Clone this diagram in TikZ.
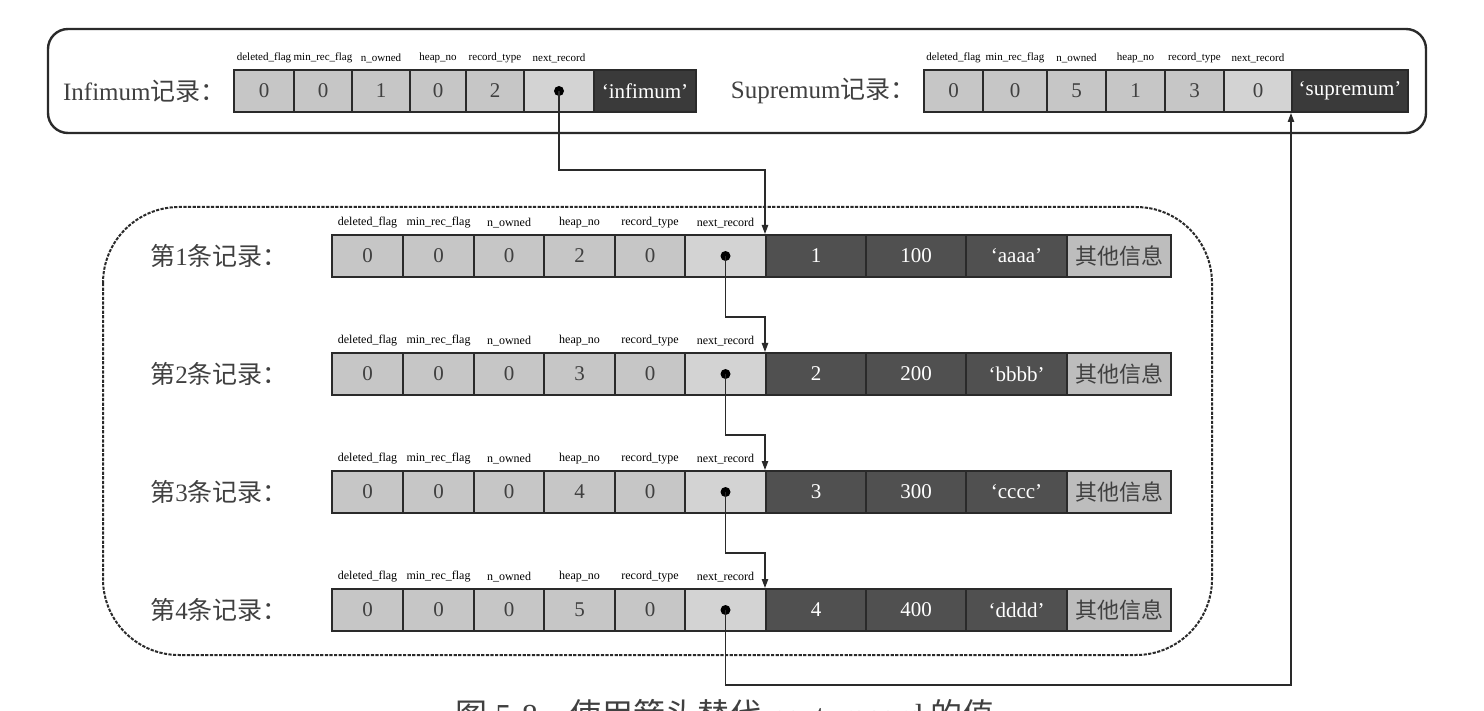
\documentclass[tikz,border=0pt]{standalone}
\usepackage{fontspec}
\setmainfont{Liberation Serif}
\newfontfamily\cjk{Noto Sans CJK SC}
\usetikzlibrary{arrows.meta}
\definecolor{cellL}{HTML}{C6C6C6}
\definecolor{cellN}{HTML}{D3D3D3}
\definecolor{cellD}{HTML}{505050}
\definecolor{cellX}{HTML}{3A3A3A}
\definecolor{cellO}{HTML}{BDBDBD}
\definecolor{edgec}{HTML}{2A2A2A}
\definecolor{inkc}{HTML}{404040}
\newcommand\mkcell[6]{%
  \pgfmathsetmacro\mkcw{(#4-#3)*0.5}%
  \pgfmathsetmacro\mkcx{(#3+#4)/2}%
  \node[#1, minimum width=\mkcw pt] (#2) at (\mkcx,#5) {#6};}
\begin{document}
\begin{tikzpicture}[x=0.5pt,y=-0.5pt,
  cellbase/.style={draw=edgec, line width=1pt, minimum height=21pt, inner sep=0pt,
    font=\fontsize{10.5}{10.5}\selectfont},
  lc/.style={cellbase, fill=cellL, text=inkc},
  nc/.style={cellbase, fill=cellN, text=inkc},
  dc/.style={cellbase, fill=cellD, text=white},
  xc/.style={cellbase, fill=cellX, text=white, font=\fontsize{10.5}{10.5}\selectfont},
  oc/.style={cellbase, fill=cellO, text=inkc, font=\cjk\fontsize{11}{11}\selectfont},
  fl/.style={font=\fontsize{5.5}{5.5}\selectfont, text=black, inner sep=0pt},
  rl/.style={font=\fontsize{6}{6}\selectfont, text=black, inner sep=0pt},
  boxlbl/.style={font=\fontsize{12.5}{12.5}\selectfont, text=inkc, inner sep=0pt},
  dotn/.style={circle, fill=black, minimum size=5pt, inner sep=0pt},
  link/.style={draw=edgec, line width=0.7pt, -{Triangle[length=4.5pt,width=3.2pt]}},
  topbox/.style={draw=edgec, line width=1.2pt, rounded corners=10pt},
  dashbox/.style={draw=edgec, line width=1pt, dash pattern=on 1.6pt off 0.7pt, rounded corners=38pt}
]
\useasboundingbox (0,0) rectangle (1484,711);

% containers
\draw[topbox] (48,29) rectangle (1426,133);
\draw[dashbox] (103,207) rectangle (1212,655);

% Infimum record
\node[boxlbl, anchor=east] (inflbl) at (226,91) {Infimum{\cjk 记录：}};
\mkcell{lc}{i1}{234}{294}{91}{0}
\mkcell{lc}{i2}{294}{352}{91}{0}
\mkcell{lc}{i3}{352}{410}{91}{1}
\mkcell{lc}{i4}{410}{466}{91}{0}
\mkcell{lc}{i5}{466}{524}{91}{2}
\mkcell{nc}{i6}{524}{594}{91}{}
\mkcell{xc}{i7}{594}{696}{91}{`infimum'}
\node[dotn] (idot) at (i6.center) {};
\foreach \k/\t in {1/deleted\_flag,2/min\_rec\_flag,3/n\_owned,4/heap\_no,5/record\_type,6/next\_record}
  \node[fl] (if\k) at ([yshift=5.5pt]i\k.north) {\t};

% Supremum record
\node[boxlbl, anchor=east] (suplbl) at (916,91) {Supremum{\cjk 记录：}};
\mkcell{lc}{s1}{924}{983}{91}{0}
\mkcell{lc}{s2}{983}{1047}{91}{0}
\mkcell{lc}{s3}{1047}{1106}{91}{5}
\mkcell{lc}{s4}{1106}{1165}{91}{1}
\mkcell{lc}{s5}{1165}{1224}{91}{3}
\mkcell{nc}{s6}{1224}{1292}{91}{0}
\mkcell{xc}{s7}{1292}{1408}{91}{`supremum'}
\foreach \k/\t in {1/deleted\_flag,2/min\_rec\_flag,3/n\_owned,4/heap\_no,5/record\_type,6/next\_record}
  \node[fl] (sf\k) at ([yshift=5.5pt]s\k.north) {\t};

% user records
\foreach \rw/\yc/\hn/\vv/\str in {1/256/2/100/aaaa,2/374/3/200/bbbb,3/492/4/300/cccc,4/610/5/400/dddd}{
  \node[boxlbl, anchor=west] (r\rw lbl) at (150,\yc) {{\cjk 第}\rw{\cjk 条记录：}};
  \mkcell{lc}{r\rw c1}{332}{403}{\yc}{0}
  \mkcell{lc}{r\rw c2}{403}{474}{\yc}{0}
  \mkcell{lc}{r\rw c3}{474}{544}{\yc}{0}
  \mkcell{lc}{r\rw c4}{544}{615}{\yc}{\hn}
  \mkcell{lc}{r\rw c5}{615}{685}{\yc}{0}
  \mkcell{nc}{r\rw c6}{685}{766}{\yc}{}
  \mkcell{dc}{r\rw c7}{766}{866}{\yc}{\rw}
  \mkcell{dc}{r\rw c8}{866}{966}{\yc}{\vv}
  \mkcell{dc}{r\rw c9}{966}{1067}{\yc}{`\str'}
  \mkcell{oc}{r\rw c10}{1067}{1171}{\yc}{其他信息}
  \node[dotn] (r\rw d) at (r\rw c6.center) {};
  \foreach \k/\t in {1/deleted\_flag,2/min\_rec\_flag,3/n\_owned,4/heap\_no,5/record\_type,6/next\_record}
    \node[rl] (r\rw f\k) at ([yshift=5.5pt]r\rw c\k.north) {\t};
}

% turning levels
\coordinate (y0) at (0,170);
\coordinate (y1) at (0,317);
\coordinate (y2) at (0,435);
\coordinate (y3) at (0,553);
\coordinate (y4) at (0,685);

% next_record links
\draw[link] (idot.center) -- (idot |- y0) -- (r1c7.north west |- y0) -- (r1c7.north west);
\draw[link] (r1d.center) -- (r1d |- y1) -- (r2c7.north west |- y1) -- (r2c7.north west);
\draw[link] (r2d.center) -- (r2d |- y2) -- (r3c7.north west |- y2) -- (r3c7.north west);
\draw[link] (r3d.center) -- (r3d |- y3) -- (r4c7.north west |- y3) -- (r4c7.north west);
\draw[link] (r4d.center) -- (r4d |- y4) -- (s7.south west |- y4) -- (s7.south west);

% caption (cut off at the lower edge, as in the reference)
\begin{scope}
  \clip (0,0) rectangle (1484,711);
  \node[font=\fontsize{16}{16}\selectfont, text=inkc] (cap) at (725,715)
    {{\cjk 图} 5-8\quad{\cjk 使用箭头替代} next\_record {\cjk 的值}};
\end{scope}
\end{tikzpicture}
\end{document}
